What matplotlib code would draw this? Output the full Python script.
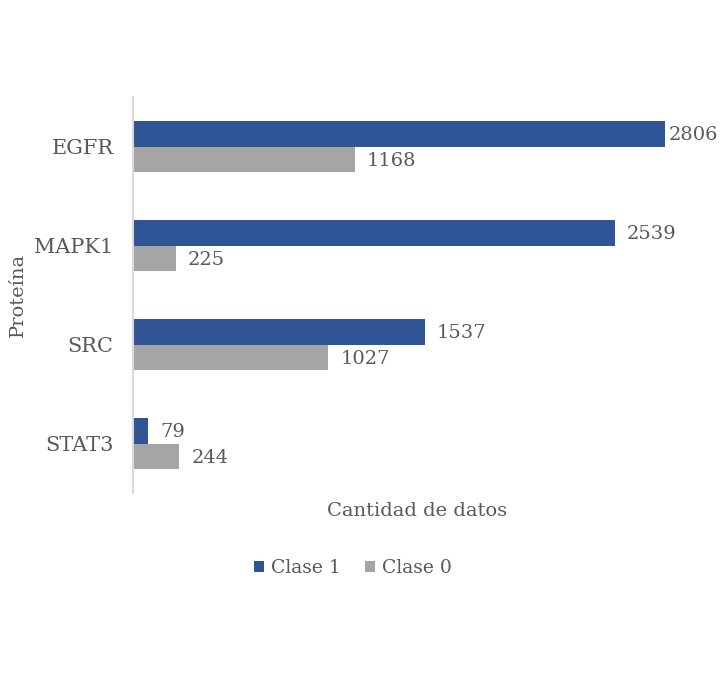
import numpy as np
import matplotlib
matplotlib.use("Agg")
import matplotlib.pyplot as plt

proteinas = ["EGFR", "MAPK1", "SRC", "STAT3"]
clase1 = [2806, 2539, 1537, 79]
clase0 = [1168, 225, 1027, 244]

azul = "#2F5597"
gris = "#A5A5A5"
texto = "#595959"

plt.rcParams['font.family'] = ['DejaVu Serif']

fig = plt.figure(figsize=(7.25, 6.81), dpi=100)
ax = fig.add_axes([133 / 725, 1 - 493 / 681, (702 - 133) / 725, (493 - 97) / 681])

y = np.arange(len(proteinas))
h = 0.26
b1 = ax.barh(y - h / 2, clase1, height=h, color=azul, label="Clase 1")
b0 = ax.barh(y + h / 2, clase0, height=h, color=gris, label="Clase 0")

ax.set_xlim(0, 3000)
ax.set_ylim(3.5, -0.5)

# etiquetas de datos; si no caben, se meten hacia el borde (como Excel)
fig.canvas.draw()
renderer = fig.canvas.get_renderer()
limite = 718
for bars, vals in [(b1, clase1), (b0, clase0)]:
    for bar, v in zip(bars, vals):
        t = ax.annotate(str(v), (bar.get_width(), bar.get_y() + bar.get_height() / 2),
                        xytext=(9, -1), textcoords="offset points",
                        ha="left", va="center", fontsize=14, color=texto)
        bb = t.get_window_extent(renderer)
        if bb.x1 > limite:
            t.set_position((9 - (bb.x1 - limite) * 72 / fig.dpi, -1))

ax.set_yticks(y)
ax.set_yticklabels(proteinas, fontsize=15, color=texto)
ax.tick_params(axis="y", length=0, pad=14)
ax.set_xticks([])

for s in ["top", "right", "bottom"]:
    ax.spines[s].set_visible(False)
ax.spines["left"].set_color("#D9D9D9")
ax.spines["left"].set_linewidth(1.5)

fig.text(417 / 725, 1 - 511 / 681, "Cantidad de datos", ha="center", va="center",
         fontsize=14, color=texto)
fig.text(18 / 725, 1 - 295 / 681, "Proteína", ha="center", va="center",
         rotation=90, fontsize=14, color=texto)

fig.legend(handles=[b1, b0], loc="center", bbox_to_anchor=(353 / 725, 1 - 568 / 681),
           ncol=2, frameon=False, fontsize=13.5, labelcolor=texto,
           handlelength=0.55, handleheight=0.55, handletextpad=0.35, columnspacing=1.3)

fig.savefig("out.png", dpi=100)
